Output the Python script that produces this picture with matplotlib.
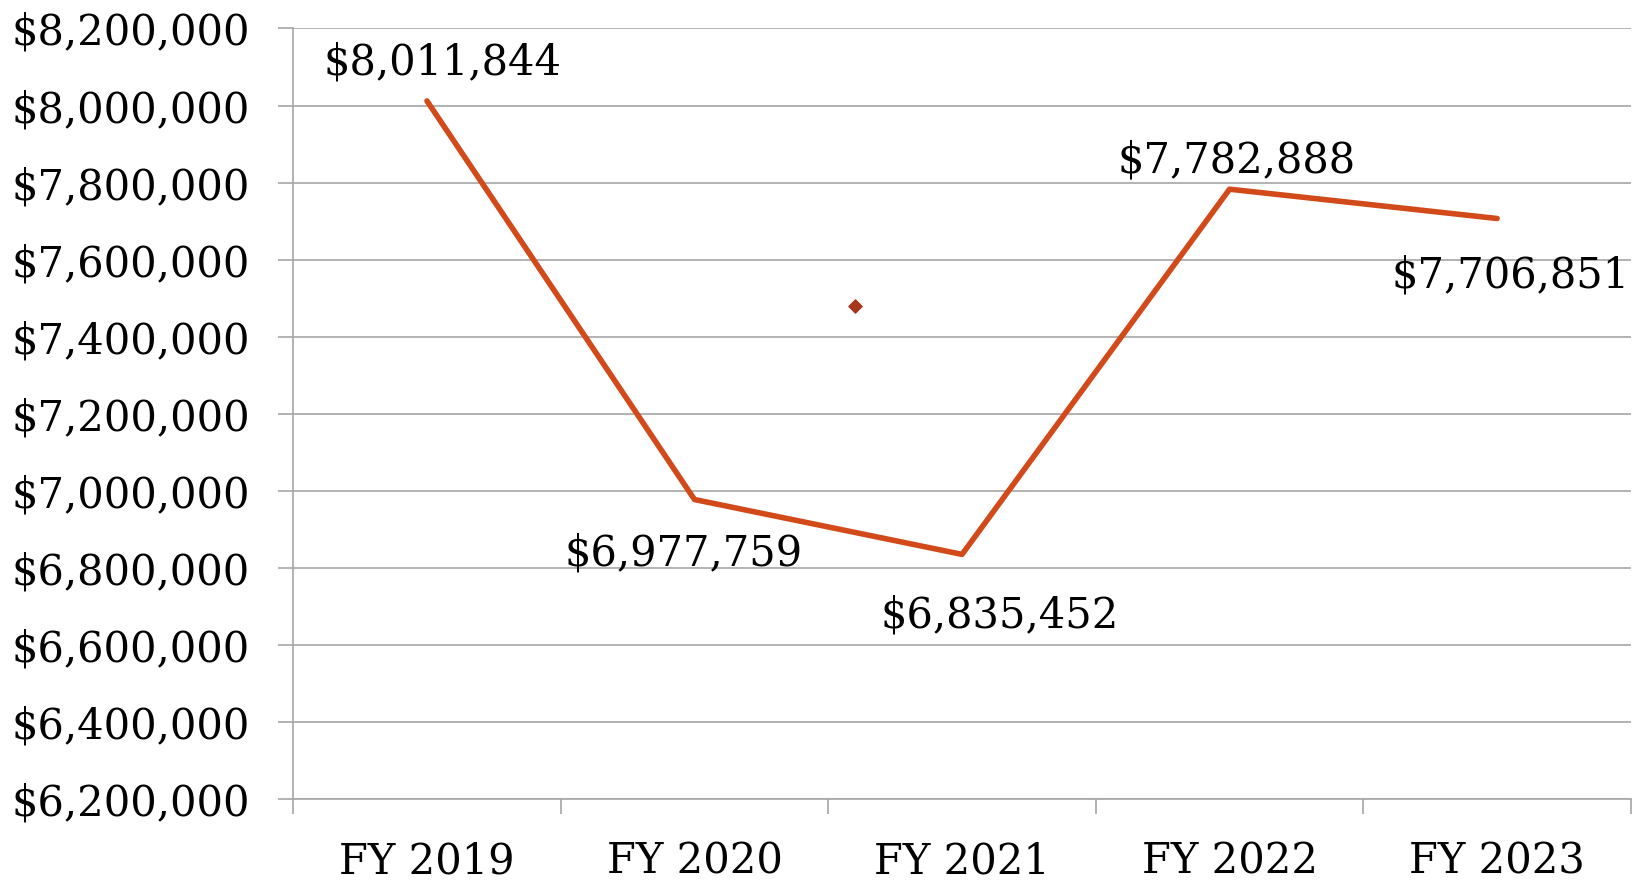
import numpy as np
import matplotlib
matplotlib.use("Agg")
import matplotlib.pyplot as plt
from matplotlib.ticker import FuncFormatter, MultipleLocator, FixedLocator

years = ["FY 2019", "FY 2020", "FY 2021", "FY 2022", "FY 2023"]
revenue = [8011844, 6977759, 6835452, 7782888, 7706851]
# label offsets in points (dx, dy)
label_offsets = [(11, 28), (-8, -39), (27, -44), (5, 21), (10, -41)]
# stray marker seen in the original
stray_x = [1.6]
stray_y = [7480000]

plt.rcParams['font.family'] = ['DejaVu Serif']

fig = plt.figure(figsize=(16.49, 8.80), dpi=100)
ax = fig.add_axes([0.1778, 0.0917, 0.989 - 0.1778, 0.9677 - 0.0917])

x = np.arange(len(years))
ax.plot(x, revenue, color="#D2491A", linewidth=4, solid_capstyle="round", solid_joinstyle="round", zorder=3)
ax.scatter(stray_x, stray_y, marker="D", s=45, color="#A8361A", zorder=3)

for xi, v, off in zip(x, revenue, label_offsets):
    ax.annotate("${:,.0f}".format(v), (xi, v), xytext=off, textcoords="offset points",
                ha="center", va="center", fontsize=30, color="black")

ax.set_xlim(-0.5, len(years) - 0.5)
ax.set_ylim(6200000, 8200000)
ax.yaxis.set_major_locator(MultipleLocator(200000))
ax.yaxis.set_major_formatter(FuncFormatter(lambda v, p: "${:,.0f}".format(v)))
ax.set_xticks(x)
ax.set_xticklabels(years)
ax.xaxis.set_minor_locator(FixedLocator(np.arange(-0.5, len(years), 1.0)))

ax.grid(axis="y", color="#A6A6A6", linewidth=1.2)
ax.set_axisbelow(True)
for s in ["top", "right"]:
    ax.spines[s].set_visible(False)
for s in ["left", "bottom"]:
    ax.spines[s].set_color("#A6A6A6")
    ax.spines[s].set_linewidth(1.2)

ax.tick_params(axis="y", length=11, width=1.2, color="#A6A6A6", labelsize=30, pad=20)
ax.tick_params(axis="x", which="major", length=0, labelsize=30, pad=30)
ax.tick_params(axis="x", which="minor", length=11, width=1.2, color="#A6A6A6")

fig.savefig("out.png", dpi=100, facecolor="white")
